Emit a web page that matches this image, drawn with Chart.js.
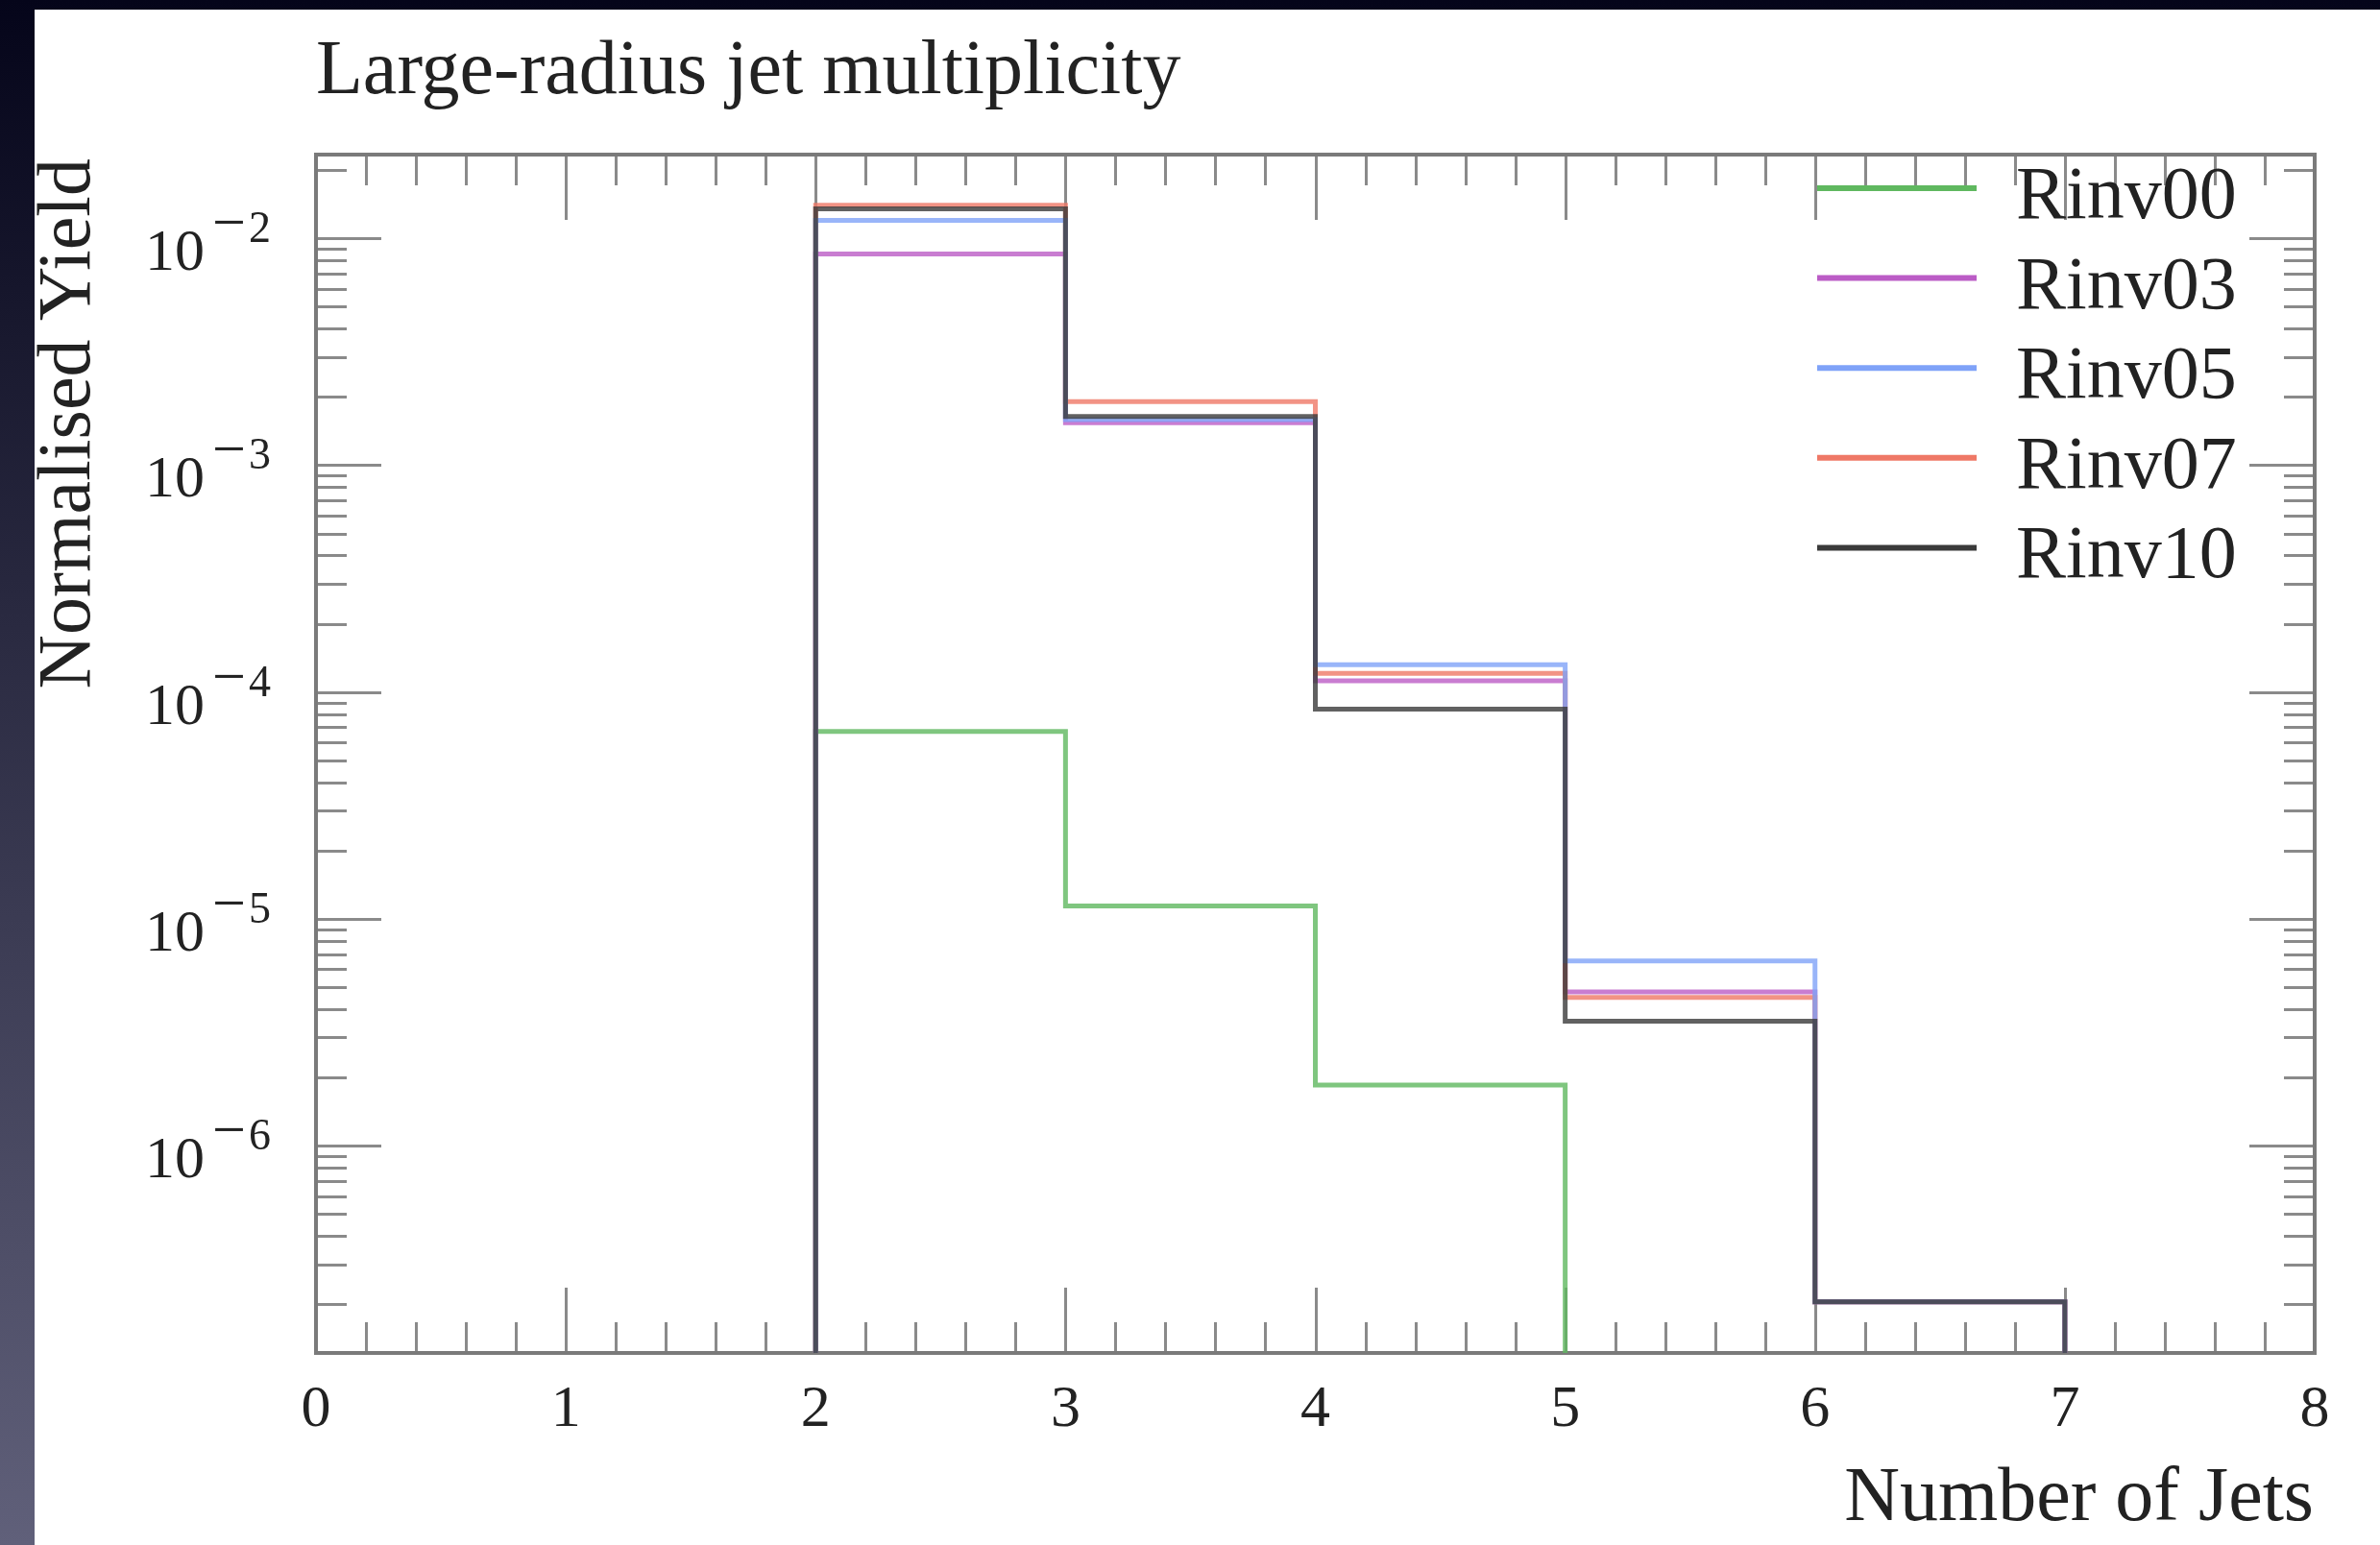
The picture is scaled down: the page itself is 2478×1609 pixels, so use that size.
<!DOCTYPE html>
<html>
<head>
<meta charset="utf-8">
<title>Large-radius jet multiplicity</title>
<script src="https://cdn.jsdelivr.net/npm/chart.js@4.4.1/dist/chart.umd.min.js"></script>
<style>
html,body{margin:0;padding:0}
body{width:2478px;height:1609px;overflow:hidden;background:linear-gradient(to bottom,#05051a,#60607a)}
#panel{position:absolute;left:36px;top:10px;width:2442px;height:1599px;background:#fff}
canvas{display:block}
</style>
</head>
<body>
<div id="panel"><canvas id="jetChart" width="2442" height="1599"></canvas></div>
<script>
// histogram bins: edges 0..8, one value per bin (0 = empty bin)
const binEdges = [0,1,2,3,4,5,6,7,8]
const seriesNames = ["Rinv00","Rinv03","Rinv05","Rinv07","Rinv10"]
const seriesColors = ["#5fb85f","#bb5cc6","#7fa2f8","#ef7866","#3a3a3a"]
// which line ends up on top (lower = drawn later)
const drawOrder = [4,3,1,2,0]

const rinv00 = [0,0,6.7e-5,1.14e-5,1.85e-6,0,0,0]
const rinv03 = [0,0,8.54e-3,1.54e-3,1.12e-4,4.77e-6,2.05e-7,0]
const rinv05 = [0,0,1.20e-2,1.59e-3,1.32e-4,6.52e-6,2.05e-7,0]
const rinv07 = [0,0,1.40e-2,1.905e-3,1.21e-4,4.51e-6,2.05e-7,0]
const rinv10 = [0,0,1.35e-2,1.64e-3,8.41e-5,3.54e-6,2.05e-7,0]
const seriesValues = [rinv00,rinv03,rinv05,rinv07,rinv10]

const xTickLabels = ["0","1","2","3","4","5","6","7","8"]
const yTickExponents = [-2,-3,-4,-5,-6]

const xMin = 0
const xMax = 8
const yMin = 1.22e-7
const yMax = 2.34e-2

const serif = "'Liberation Serif','Times New Roman',serif"

function toSteps(vals){
  // empty bins are pushed far below the axis so they get clipped
  return binEdges.map((edge,i)=>{
    const v = vals[Math.min(i,vals.length-1)]
    return {x:edge, y: v > 0 ? v : yMin/100}
  })
}

const datasets = seriesNames.map((name,i)=>({
  label:name,
  data:toSteps(seriesValues[i]),
  borderColor:seriesColors[i] + "cc",
  borderWidth:5,
  stepped:"before",
  pointRadius:0,
  fill:false,
  order:drawOrder[i]
}))

const framePlugin = {
  id:"frame",
  beforeDatasetsDraw(chart){
    const {ctx, chartArea:a, scales} = chart
    const x = scales.x, y = scales.y
    ctx.save()
    ctx.strokeStyle = "#8a8a8a"
    ctx.lineWidth = 3
    ctx.beginPath()
    // x ticks on bottom and top, pointing inwards
    for(let k=0;k<=40;k++){
      const v = xMin + k*0.2
      const px = Math.round(x.getPixelForValue(v)) + 0.5
      const len = k%5===0 ? 68 : 32
      ctx.moveTo(px,a.bottom); ctx.lineTo(px,a.bottom-len)
      ctx.moveTo(px,a.top); ctx.lineTo(px,a.top+len)
    }
    // log y ticks on left and right
    for(let e=-8;e<=-1;e++){
      for(let m=1;m<=9;m++){
        const v = m*Math.pow(10,e)
        if(v < yMin || v > yMax) continue
        const py = Math.round(y.getPixelForValue(v)) + 0.5
        const len = m===1 ? 68 : 32
        ctx.moveTo(a.left,py); ctx.lineTo(a.left+len,py)
        ctx.moveTo(a.right,py); ctx.lineTo(a.right-len,py)
      }
    }
    ctx.stroke()
    ctx.strokeStyle = "#7a7a7a"
    ctx.lineWidth = 4
    ctx.strokeRect(a.left,a.top,a.right-a.left,a.bottom-a.top)
    ctx.restore()
  },
  afterDraw(chart){
    const {ctx, chartArea:a, scales} = chart
    const x = scales.x, y = scales.y
    ctx.save()
    ctx.fillStyle = "#222"

    // title
    ctx.font = "80px " + serif
    ctx.textAlign = "left"
    ctx.textBaseline = "alphabetic"
    ctx.fillText("Large-radius jet multiplicity", a.left, 87)

    // x tick labels
    ctx.font = "62px " + serif
    ctx.textAlign = "center"
    xTickLabels.forEach((lab,i)=>{
      ctx.fillText(lab, x.getPixelForValue(xMin+i), a.bottom+76)
    })

    // x axis title
    ctx.font = "80px " + serif
    ctx.textAlign = "right"
    ctx.fillText("Number of Jets", a.right-1, a.bottom+174)

    // y tick labels 10^-n
    yTickExponents.forEach(e=>{
      const py = y.getPixelForValue(Math.pow(10,e))
      ctx.textAlign = "right"
      ctx.font = "62px " + serif
      ctx.fillText("10", a.left-116, py+33)
      ctx.textAlign = "left"
      ctx.font = "62px " + serif
      ctx.fillText("\u2212", a.left-108, py+4)
      ctx.font = "46px " + serif
      ctx.fillText(String(-e), a.left-70, py+4)
    })

    // y axis title, rotated, aligned to top of frame
    ctx.save()
    ctx.translate(57, a.top+4)
    ctx.rotate(-Math.PI/2)
    ctx.font = "78px " + serif
    ctx.textAlign = "right"
    ctx.fillText("Normalised Yield", 0, 0)
    ctx.restore()

    // legend
    seriesNames.forEach((name,i)=>{
      const ly = a.top + 35 + i*93.6
      ctx.strokeStyle = seriesColors[i]
      ctx.lineWidth = 6
      ctx.beginPath()
      ctx.moveTo(a.right-518, ly)
      ctx.lineTo(a.right-352, ly)
      ctx.stroke()
      ctx.fillStyle = "#222"
      ctx.font = "78px " + serif
      ctx.textAlign = "left"
      ctx.fillText(name, a.right-311, ly+31)
    })
    ctx.restore()
  }
}

new Chart(document.getElementById("jetChart"),{
  type:"line",
  data:{datasets:datasets},
  options:{
    responsive:false,
    animation:false,
    devicePixelRatio:1,
    layout:{padding:{left:293,top:151,right:68,bottom:200}},
    plugins:{
      legend:{display:false},
      tooltip:{enabled:false}
    },
    scales:{
      x:{type:"linear",min:xMin,max:xMax,display:false},
      y:{type:"logarithmic",min:yMin,max:yMax,bounds:"data",display:false}
    }
  },
  plugins:[framePlugin]
})
</script>
</body>
</html>
